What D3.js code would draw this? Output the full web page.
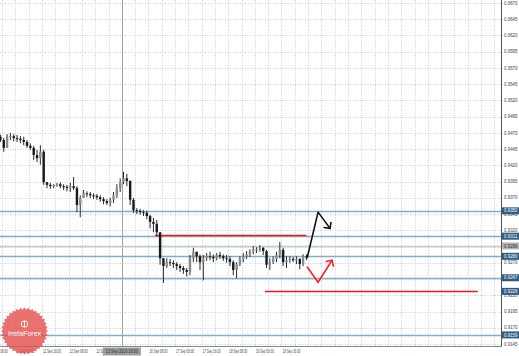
<!DOCTYPE html>
<html>
<head>
<meta charset="utf-8">
<script src="https://cdn.jsdelivr.net/npm/d3@7"></script>
<style>
  body { margin: 0; background: #fff; }
  svg { display: block; }
  text { font-family: "Liberation Sans", Arial, sans-serif; }
</style>
</head>
<body>
<svg id="chart" width="519" height="356"></svg>
<script>
// hours are trading hours counted from 10 Sep 08:00, bars are 2h each starting at hour 6
var firstOpen = 0.9464;
var highs = [0.9467, 0.9462, 0.9468, 0.9470, 0.9468, 0.9467, 0.9465, 0.9464, 0.9459, 0.9454,
             0.9450, 0.9444, 0.9451, 0.9444, 0.9394, 0.9393, 0.9391, 0.9393, 0.9394, 0.9391,
             0.9390, 0.9393, 0.9402, 0.9388, 0.9374, 0.9382, 0.9380, 0.9379, 0.9377, 0.9376,
             0.9374, 0.9371, 0.9368, 0.9370, 0.9379, 0.9391, 0.9400, 0.9410, 0.9407, 0.9397,
             0.9370, 0.9354, 0.9353, 0.9351, 0.9350, 0.9344, 0.9339, 0.9336, 0.9317, 0.9277,
             0.9277, 0.9276, 0.9274, 0.9271, 0.9268, 0.9265, 0.9262, 0.9282, 0.9293, 0.9287,
             0.9283, 0.9282, 0.9285, 0.9287, 0.9283, 0.9285, 0.9287, 0.9283, 0.9282, 0.9280,
             0.9274, 0.9271, 0.9280, 0.9285, 0.9288, 0.9291, 0.9296, 0.9294, 0.9297, 0.9294,
             0.9290, 0.9277, 0.9280, 0.9287, 0.9302, 0.9293, 0.9280, 0.9280, 0.9279, 0.9280,
             0.9277, 0.9283, 0.9283];
var lows = [0.9456, 0.9441, 0.9447, 0.9459, 0.9457, 0.9456, 0.9454, 0.9451, 0.9447, 0.9444,
            0.9428, 0.9425, 0.9421, 0.9390, 0.9385, 0.9384, 0.9385, 0.9387, 0.9385, 0.9382,
            0.9380, 0.9379, 0.9382, 0.9348, 0.9340, 0.9370, 0.9371, 0.9370, 0.9368, 0.9367,
            0.9364, 0.9360, 0.9359, 0.9357, 0.9362, 0.9370, 0.9379, 0.9391, 0.9388, 0.9359,
            0.9347, 0.9345, 0.9344, 0.9342, 0.9337, 0.9323, 0.9317, 0.9311, 0.9267, 0.9239,
            0.9262, 0.9265, 0.9262, 0.9259, 0.9256, 0.9253, 0.9249, 0.9251, 0.9271, 0.9271,
            0.9259, 0.9243, 0.9273, 0.9274, 0.9271, 0.9274, 0.9276, 0.9273, 0.9270, 0.9265,
            0.9251, 0.9246, 0.9265, 0.9271, 0.9276, 0.9279, 0.9283, 0.9285, 0.9287, 0.9282,
            0.9262, 0.9259, 0.9268, 0.9271, 0.9277, 0.9265, 0.9262, 0.9270, 0.9271, 0.9268,
            0.9260, 0.9265, 0.9274];
var closes = [0.9459, 0.9447, 0.9465, 0.9465, 0.9462, 0.9461, 0.9459, 0.9456, 0.9450, 0.9447,
              0.9436, 0.9431, 0.9441, 0.9394, 0.9390, 0.9388, 0.9390, 0.9391, 0.9388, 0.9387,
              0.9385, 0.9388, 0.9385, 0.9359, 0.9370, 0.9377, 0.9376, 0.9374, 0.9373, 0.9371,
              0.9368, 0.9365, 0.9362, 0.9367, 0.9374, 0.9385, 0.9394, 0.9400, 0.9396, 0.9367,
              0.9351, 0.9350, 0.9348, 0.9347, 0.9342, 0.9333, 0.9330, 0.9317, 0.9277, 0.9265,
              0.9271, 0.9270, 0.9268, 0.9265, 0.9262, 0.9259, 0.9256, 0.9277, 0.9287, 0.9280,
              0.9271, 0.9277, 0.9280, 0.9279, 0.9277, 0.9282, 0.9280, 0.9277, 0.9276, 0.9271,
              0.9259, 0.9268, 0.9276, 0.9280, 0.9283, 0.9287, 0.9290, 0.9291, 0.9293, 0.9288,
              0.9267, 0.9271, 0.9276, 0.9282, 0.9290, 0.9271, 0.9274, 0.9276, 0.9274, 0.9276,
              0.9268, 0.9280, 0.9279];

var timeLabels = ["10 Sep 08:00", "11 Sep 00:00", "11 Sep 16:00", "12 Sep 08:00", "13 Sep 00:00",
                  "13 Sep 16:00", "16 Sep 08:00", "17 Sep 00:00", "17 Sep 16:00", "18 Sep 08:00",
                  "19 Sep 00:00", "19 Sep 16:00"];
var timeLabelHours = [0, 16, 32, 48, 64, 80, 96, 112, 128, 144, 160, 176];

var priceTicks = [0.9670, 0.9645, 0.9620, 0.9595, 0.9570, 0.9545, 0.9520, 0.9495, 0.9470, 0.9445,
                  0.9420, 0.9395, 0.9370, 0.9345, 0.9320, 0.9295, 0.9270, 0.9245, 0.9220, 0.9195,
                  0.9170, 0.9145];

var blueLevels = [0.9350, 0.9311, 0.9280, 0.9247, 0.9159];
var grayLevels = [0.9296];
var redLevels = [0.9313, 0.9226];
var redFrom = [100, 166];
var redTo = [191, 294];
var upArrow = [[191.4, 0.9277], [198, 0.9348], [205.2, 0.9323]];
var downArrow = [[191.4, 0.9264], [198, 0.9240], [206.4, 0.9274]];
var cursorHour = 80;
var cursorLabel = "13 Sep 2019 16:00";

var W = 501, H = 346;
var svg = d3.select("#chart");

var x = d3.scaleLinear().domain([0, 308]).range([-11.2, W]);
var y = d3.scaleLinear().domain([0.9145, 0.9670]).range([344, 3]);
var px = function(v) { return Math.round(v) + 0.5; };

svg.append("defs").append("clipPath").attr("id", "plot")
  .append("rect").attr("width", W).attr("height", H);

var plot = svg.append("g").attr("clip-path", "url(#plot)");

// dotted grid
plot.selectAll(".vg").data(d3.range(0, 309, 8)).enter().append("line")
  .attr("x1", function(d) { return px(x(d)); })
  .attr("x2", function(d) { return px(x(d)); })
  .attr("y1", 0).attr("y2", H)
  .attr("stroke", "#bfd2e0").attr("stroke-dasharray", "1,1.5");
plot.selectAll(".hg").data(priceTicks).enter().append("line")
  .attr("x1", 0).attr("x2", W)
  .attr("y1", function(d) { return px(y(d)); })
  .attr("y2", function(d) { return px(y(d)); })
  .attr("stroke", "#bfd2e0").attr("stroke-dasharray", "1,1.5");

// vertical cursor line
plot.append("line")
  .attr("x1", px(x(cursorHour))).attr("x2", px(x(cursorHour)))
  .attr("y1", 0).attr("y2", H).attr("stroke", "#a0a0a0");

// horizontal levels
plot.selectAll(".gl").data(grayLevels).enter().append("line")
  .attr("x1", 0).attr("x2", W)
  .attr("y1", function(d) { return px(y(d)); })
  .attr("y2", function(d) { return px(y(d)); })
  .attr("stroke", "#c8c8c8").attr("stroke-width", 1.5);
plot.selectAll(".bl").data(blueLevels).enter().append("line")
  .attr("x1", 0).attr("x2", W)
  .attr("y1", function(d) { return px(y(d)); })
  .attr("y2", function(d) { return px(y(d)); })
  .attr("stroke", "#88abc5").attr("stroke-width", 1.4);
plot.selectAll(".rl").data(redLevels).enter().append("line")
  .attr("x1", function(d, i) { return x(redFrom[i]); })
  .attr("x2", function(d, i) { return x(redTo[i]); })
  .attr("y1", function(d) { return px(y(d)); })
  .attr("y2", function(d) { return px(y(d)); })
  .attr("stroke", "#f01818").attr("stroke-width", 1.4);

// bars
var bars = closes.map(function(c, i) {
  return { h: 7 + 2 * i, open: i ? closes[i - 1] : firstOpen, high: highs[i], low: lows[i], close: c };
});
var bar = plot.selectAll(".bar").data(bars).enter().append("g");
bar.append("line")
  .attr("x1", function(d) { return x(d.h); }).attr("x2", function(d) { return x(d.h); })
  .attr("y1", function(d) { return y(d.high); }).attr("y2", function(d) { return y(d.low); })
  .attr("stroke", "#2a2a2a").attr("stroke-width", 1);
bar.append("rect")
  .attr("x", function(d) { return x(d.h) - 1.2; })
  .attr("width", 2.4)
  .attr("y", function(d) { return y(Math.max(d.open, d.close)); })
  .attr("height", function(d) { return Math.max(1, Math.abs(y(d.open) - y(d.close))); })
  .attr("fill", function(d) { return d.close >= d.open ? "#8a8a8a" : "#1a1a1a"; });

// forecast arrows
function arrow(pts, color, width) {
  var line = d3.line().x(function(d) { return x(d[0]); }).y(function(d) { return y(d[1]); });
  plot.append("path").attr("d", line(pts)).attr("fill", "none")
    .attr("stroke", color).attr("stroke-width", width).attr("stroke-linejoin", "round");
  var a = pts[pts.length - 2], b = pts[pts.length - 1];
  var tx = x(b[0]), ty = y(b[1]);
  var ang = Math.atan2(y(a[1]) - ty, x(a[0]) - tx);
  [-Math.PI / 4, Math.PI / 4].forEach(function(off) {
    plot.append("line").attr("x1", tx).attr("y1", ty)
      .attr("x2", tx + 6 * Math.cos(ang + off)).attr("y2", ty + 6 * Math.sin(ang + off))
      .attr("stroke", color).attr("stroke-width", width).attr("stroke-linecap", "round");
  });
}
arrow(upArrow, "#111", 1.6);
arrow(downArrow, "#ff2020", 1.6);

// frame
svg.append("line").attr("x1", W + 0.5).attr("x2", W + 0.5).attr("y1", 0).attr("y2", H + 1)
  .attr("stroke", "#555");
svg.append("line").attr("x1", 0).attr("x2", W + 1).attr("y1", H + 0.5).attr("y2", H + 0.5)
  .attr("stroke", "#888");

// price axis
svg.selectAll(".pt").data(priceTicks).enter().append("text")
  .attr("x", W + 3).attr("y", function(d) { return y(d) + 1.6; })
  .attr("font-size", 4.6).attr("fill", "#444")
  .attr("textLength", 13.5).attr("lengthAdjust", "spacingAndGlyphs")
  .text(function(d) { return d.toFixed(4); });

var boxes = blueLevels.map(function(v) { return { v: v, fill: "#2f5d80", text: "#fff" }; })
  .concat([{ v: redLevels[1], fill: "#2f5d80", text: "#fff" }])
  .concat(grayLevels.map(function(v) { return { v: v, fill: "#b4b4b4", text: "#333" }; }));
var box = svg.selectAll(".lb").data(boxes).enter().append("g");
box.append("rect").attr("x", W + 1).attr("width", 17.5)
  .attr("y", function(d) { return y(d.v) - 3.5; }).attr("height", 7)
  .attr("fill", function(d) { return d.fill; });
box.append("text").attr("x", W + 3).attr("y", function(d) { return y(d.v) + 1.6; })
  .attr("font-size", 4.6).attr("fill", function(d) { return d.text; })
  .attr("textLength", 13.5).attr("lengthAdjust", "spacingAndGlyphs")
  .text(function(d) { return d.v.toFixed(4); });

// time axis (the label under the cursor box is hidden by it)
svg.selectAll(".tl").data(timeLabels.filter(function(d, i) { return timeLabelHours[i] !== cursorHour; }))
  .enter().append("text")
  .attr("x", function(d) { return x(timeLabelHours[timeLabels.indexOf(d)]) + 1; })
  .attr("y", 352.5).attr("font-size", 4.6).attr("fill", "#444")
  .attr("textLength", 18).attr("lengthAdjust", "spacingAndGlyphs")
  .text(function(d) { return d; });
svg.append("rect").attr("x", x(cursorHour) - 19).attr("y", H + 1.5).attr("width", 38).attr("height", 8)
  .attr("fill", "#9c9c9c");
svg.append("text").attr("x", x(cursorHour) - 16).attr("y", 352.5)
  .attr("font-size", 4.6).attr("fill", "#333")
  .attr("textLength", 32).attr("lengthAdjust", "spacingAndGlyphs").text(cursorLabel);

// InstaForex badge
var cx = 24.5, cy = 331, n = 36;
var star = d3.range(n * 2).map(function(k) {
  var r = k % 2 ? 21.5 : 23.5, a = Math.PI * k / n;
  return [cx + r * Math.cos(a), cy + r * Math.sin(a)];
});
var badge = svg.append("g").attr("opacity", 0.8);
badge.append("path").attr("d", "M" + star.join("L") + "Z").attr("fill", "#e6504b");
badge.append("circle").attr("cx", cx).attr("cy", cy - 7).attr("r", 3.2)
  .attr("fill", "none").attr("stroke", "#fff").attr("stroke-width", 0.9);
badge.append("line").attr("x1", cx).attr("x2", cx).attr("y1", cy - 10).attr("y2", cy - 4)
  .attr("stroke", "#fff").attr("stroke-width", 0.9);
badge.append("text").attr("x", cx).attr("y", cy + 5).attr("text-anchor", "middle")
  .attr("font-size", 7).attr("fill", "#fff").text("InstaForex");
</script>
</body>
</html>
